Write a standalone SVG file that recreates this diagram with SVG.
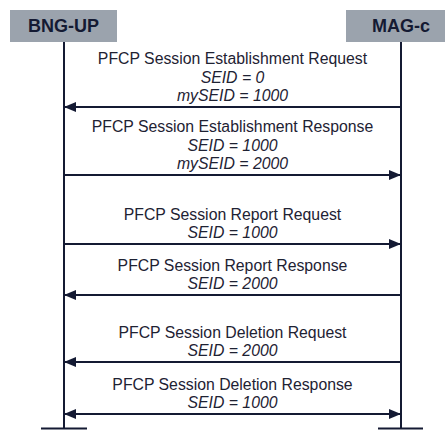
<svg xmlns="http://www.w3.org/2000/svg" width="445" height="430" viewBox="0 0 445 430">
<style>
.box{fill:#9ba3ad}
.hdr{font-family:"Liberation Sans",Arial,sans-serif;font-weight:bold;font-size:18px;fill:#141a33;text-anchor:middle}
.life{stroke:#141a33;stroke-width:2;fill:none}
.msg{stroke:#141a33;stroke-width:2;fill:none}
.lbl{font-family:"Liberation Sans",Arial,sans-serif;font-size:15.8px;fill:#1e2233;text-anchor:middle}
.it{font-style:italic}
</style>
<defs>
<marker id="ah" markerUnits="userSpaceOnUse" markerWidth="12" markerHeight="12" viewBox="0 0 12 12" refX="11" refY="6" orient="auto-start-reverse">
<path d="M0,1 L12,6 L0,11 Z" fill="#141a33"/>
</marker>
</defs>
<rect width="445" height="430" fill="#fff"/>
<g id="bng-up">
<rect class="box" x="10" y="10" width="107" height="32"/>
<text class="hdr" x="63.5" y="32">BNG-UP</text>
<line class="life" x1="64" y1="42" x2="64" y2="429"/>
<line class="life" x1="41" y1="428.5" x2="87" y2="428.5"/>
</g>
<g id="mag-c">
<rect class="box" x="346" y="10" width="99" height="32"/>
<text class="hdr" x="401" y="32">MAG-c</text>
<line class="life" x1="401" y1="42" x2="401" y2="429"/>
<line class="life" x1="378" y1="428.5" x2="423" y2="428.5"/>
</g>
<g id="connectors">
<line class="msg" x1="400" y1="107" x2="65" y2="107" marker-end="url(#ah)"/>
<line class="msg" x1="65" y1="175" x2="400" y2="175" marker-end="url(#ah)"/>
<line class="msg" x1="65" y1="244" x2="400" y2="244" marker-end="url(#ah)"/>
<line class="msg" x1="400" y1="295" x2="65" y2="295" marker-end="url(#ah)"/>
<line class="msg" x1="400" y1="362" x2="65" y2="362" marker-end="url(#ah)"/>
<line class="msg" x1="65" y1="414" x2="400" y2="414" marker-start="url(#ah)" marker-end="url(#ah)"/>
</g>
<g id="labels">
<text class="lbl" x="232.5" y="64">PFCP Session Establishment Request</text>
<text class="lbl it" x="232.5" y="83">SEID = 0</text>
<text class="lbl it" x="232.5" y="101">mySEID = 1000</text>
<text class="lbl" x="232.5" y="132">PFCP Session Establishment Response</text>
<text class="lbl it" x="232.5" y="151">SEID = 1000</text>
<text class="lbl it" x="232.5" y="169">mySEID = 2000</text>
<text class="lbl" x="232.5" y="220">PFCP Session Report Request</text>
<text class="lbl it" x="232.5" y="238">SEID = 1000</text>
<text class="lbl" x="232.5" y="271">PFCP Session Report Response</text>
<text class="lbl it" x="232.5" y="289">SEID = 2000</text>
<text class="lbl" x="232.5" y="338">PFCP Session Deletion Request</text>
<text class="lbl it" x="232.5" y="356">SEID = 2000</text>
<text class="lbl" x="232.5" y="390">PFCP Session Deletion Response</text>
<text class="lbl it" x="232.5" y="408">SEID = 1000</text>
</g>
</svg>
